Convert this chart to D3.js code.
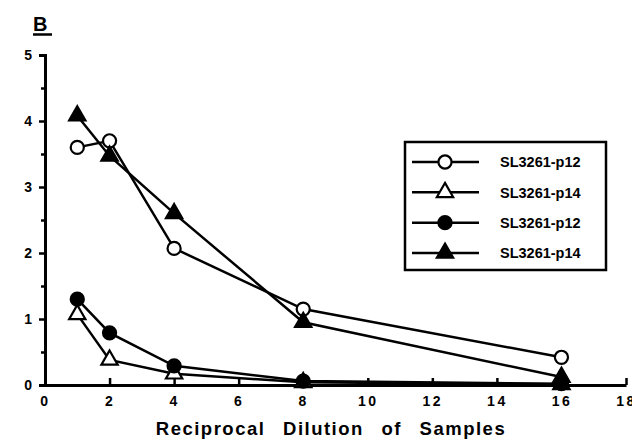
<!DOCTYPE html>
<html>
<head>
<meta charset="utf-8">
<script src="https://cdn.jsdelivr.net/npm/d3@7"></script>
<style>
  body { margin: 0; background: #fff; }
  svg { display: block; }
  svg text { font-family: "Liberation Sans", Arial, sans-serif; font-weight: bold; fill: #000; }
</style>
</head>
<body>
<div id="chart"></div>
<script>
// reciprocal dilutions
const dilutions = [1, 2, 4, 8, 16];

// series values
const openCircle = [3.6, 3.7, 2.07, 1.15, 0.42];
const openTriangle = [1.07, 0.38, 0.17, 0.04, 0.01];
const filledCircle = [1.3, 0.79, 0.29, 0.06, 0.02];
const filledTriangle = [4.08, 3.47, 2.6, 0.95, 0.12];

const seriesNames = ["SL3261-p12", "SL3261-p14", "SL3261-p12", "SL3261-p14"];

const yTicks = [0, 1, 2, 3, 4, 5];
const yMinorTicks = [0.5, 1.5, 2.5, 3.5, 4.5];
const xTicks = [0, 2, 4, 6, 8, 10, 12, 14, 16, 18];

const series = [
    { name: seriesNames[0], values: openCircle, shape: d3.symbolCircle, filled: false },
    { name: seriesNames[1], values: openTriangle, shape: d3.symbolTriangle, filled: false },
    { name: seriesNames[2], values: filledCircle, shape: d3.symbolCircle, filled: true },
    { name: seriesNames[3], values: filledTriangle, shape: d3.symbolTriangle, filled: true }
];

const width = 632, height = 441;

const svg = d3.select("#chart").append("svg")
    .attr("width", width)
    .attr("height", height);

const x = d3.scaleLinear().domain([0, 18]).range([45, 626]);
const y = d3.scaleLinear().domain([0, 5]).range([385, 55]);

const symbolSize = d => d.shape === d3.symbolCircle ? 135 : 115;

// panel letter
svg.append("text")
    .attr("x", 33).attr("y", 31)
    .style("font-size", "20px")
    .text("B");
svg.append("line")
    .attr("x1", 33).attr("x2", 52)
    .attr("y1", 34.5).attr("y2", 34.5)
    .attr("stroke", "#000").attr("stroke-width", 2.5);

// y axis
const yAxis = svg.append("g")
    .attr("transform", `translate(${x(0)},0)`)
    .call(d3.axisLeft(y).tickValues(yTicks).tickSize(6).tickPadding(7).tickFormat(d3.format("d")));
svg.append("g")
    .attr("transform", `translate(${x(0)},0)`)
    .call(d3.axisLeft(y).tickValues(yMinorTicks).tickSize(4).tickFormat(""))
    .select(".domain").remove();

// x axis, ticks pointing up
const xAxis = svg.append("g")
    .attr("transform", `translate(0,${y(0)})`)
    .call(d3.axisBottom(x).tickValues(xTicks).tickSizeInner(-7).tickSizeOuter(0).tickPadding(11).tickFormat(d3.format("d")));

svg.selectAll(".domain").attr("stroke-width", 3);
svg.selectAll(".tick line").attr("stroke-width", 2.5);

[yAxis, xAxis].forEach(g => {
    g.attr("font-family", null).attr("font-size", null);
    g.selectAll(".tick text")
        .attr("font-size", 14)
        .style("font-size", "14px");
});
xAxis.selectAll(".tick text").style("letter-spacing", "2.5px");
xAxis.selectAll(".tick").filter(d => d === 0).select("line").remove();

// axis title
svg.append("text")
    .attr("x", 331).attr("y", 435)
    .attr("text-anchor", "middle")
    .style("font-size", "18.5px")
    .style("letter-spacing", "1.5px")
    .style("word-spacing", "11px")
    .text("Reciprocal Dilution of Samples");

// lines and markers
const line = d3.line()
    .x((d, i) => x(dilutions[i]))
    .y(d => y(d));

const plot = svg.append("g");

plot.selectAll("path.series")
    .data(series)
    .enter().append("path")
    .attr("class", "series")
    .attr("d", d => line(d.values))
    .attr("fill", "none")
    .attr("stroke", "#000")
    .attr("stroke-width", 2.5);

series.forEach(s => {
    plot.append("g").selectAll("path")
        .data(s.values)
        .enter().append("path")
        .attr("transform", (d, i) => `translate(${x(dilutions[i])},${y(d)})`)
        .attr("d", d3.symbol().type(s.shape).size(symbolSize(s)))
        .attr("fill", s.filled ? "#000" : "#fff")
        .attr("stroke", "#000")
        .attr("stroke-width", 2.2);
});

// legend
const legend = svg.append("g");
legend.append("rect")
    .attr("x", 405).attr("y", 142)
    .attr("width", 201).attr("height", 128)
    .attr("fill", "#fff")
    .attr("stroke", "#000")
    .attr("stroke-width", 2.5);

const ly = d3.scaleLinear().domain([0, 3]).range([162, 253]);

const rows = legend.selectAll("g.row")
    .data(series)
    .enter().append("g")
    .attr("class", "row")
    .attr("transform", (d, i) => `translate(0,${ly(i)})`);

rows.append("line")
    .attr("x1", 412).attr("x2", 479)
    .attr("stroke", "#000").attr("stroke-width", 2.5);
rows.append("path")
    .attr("transform", "translate(445,0)")
    .attr("d", d => d3.symbol().type(d.shape).size(symbolSize(d))())
    .attr("fill", d => d.filled ? "#000" : "#fff")
    .attr("stroke", "#000")
    .attr("stroke-width", 2.2);
rows.append("text")
    .attr("x", 500)
    .attr("dy", "0.36em")
    .style("font-size", "14.5px")
    .text(d => d.name);
</script>
</body>
</html>
